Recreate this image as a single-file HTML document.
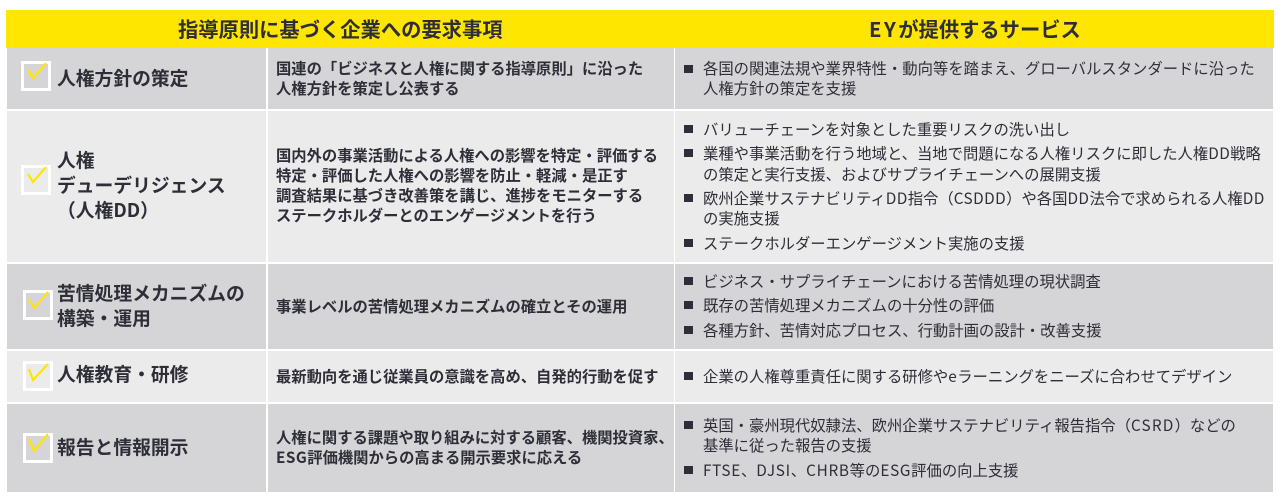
<!DOCTYPE html>
<html lang="ja"><head><meta charset="utf-8">
<style>
html,body{margin:0;padding:0;background:#fff}
body{position:relative;width:1282px;height:503px;overflow:hidden;font-family:"Noto Sans CJK JP",sans-serif;color:#2e2e38}
.r{position:absolute}
.t{position:absolute;white-space:nowrap;line-height:20px}
.h{font-size:20.3px;font-weight:700;line-height:26px}
.a{font-size:18.8px;font-weight:700;line-height:26px}
.b{font-size:15.3px;font-weight:700}
.c{font-size:15.33px;color:#2e2e38}
.s{position:absolute;width:9px;height:8px;background:#2e2e38;left:684px}
i{font-style:normal;letter-spacing:.45px}
svg{position:absolute}
</style></head><body>
<div class="r" style="left:6px;top:10px;width:1268px;height:38px;background:#ffe600"></div>
<div class="t h" style="left:178px;top:15px">指導原則に基づく企業への要求事項</div>
<div class="t h" style="left:869px;top:15px"><i style="letter-spacing:2.5px">EY</i>が提供するサービス</div>

<div class="r" style="left:7px;top:48px;width:259px;height:61px;background:#d5d5d7"></div>
<div class="r" style="left:268px;top:48px;width:406px;height:61px;background:#d5d5d7"></div>
<div class="r" style="left:675px;top:48px;width:598px;height:61px;background:#d5d5d7"></div>
<div class="r" style="left:7px;top:111px;width:259px;height:151px;background:#ebebeb"></div>
<div class="r" style="left:268px;top:111px;width:406px;height:151px;background:#ebebeb"></div>
<div class="r" style="left:675px;top:111px;width:598px;height:151px;background:#ebebeb"></div>
<div class="r" style="left:7px;top:264px;width:259px;height:85px;background:#d5d5d7"></div>
<div class="r" style="left:268px;top:264px;width:406px;height:85px;background:#d5d5d7"></div>
<div class="r" style="left:675px;top:264px;width:598px;height:85px;background:#d5d5d7"></div>
<div class="r" style="left:7px;top:351px;width:259px;height:51px;background:#ebebeb"></div>
<div class="r" style="left:268px;top:351px;width:406px;height:51px;background:#ebebeb"></div>
<div class="r" style="left:675px;top:351px;width:598px;height:51px;background:#ebebeb"></div>
<div class="r" style="left:7px;top:404px;width:259px;height:88px;background:#d5d5d7"></div>
<div class="r" style="left:268px;top:404px;width:406px;height:88px;background:#d5d5d7"></div>
<div class="r" style="left:675px;top:404px;width:598px;height:88px;background:#d5d5d7"></div>

<svg style="left:21px;top:61px" width="30" height="30"><rect x="1.5" y="1.5" width="27" height="27" fill="none" stroke="#fff" stroke-width="3"/><polyline points="7,9 12,17 25,2" fill="none" stroke="#ffe600" stroke-width="2.2"/></svg>
<svg style="left:21px;top:165px" width="30" height="30"><rect x="1.5" y="1.5" width="27" height="27" fill="none" stroke="#fff" stroke-width="3"/><polyline points="7,9 12,17 25,2" fill="none" stroke="#ffe600" stroke-width="2.2"/></svg>
<svg style="left:23px;top:290px" width="30" height="30"><rect x="1.5" y="1.5" width="27" height="27" fill="none" stroke="#fff" stroke-width="3"/><polyline points="6,9 11,18 25,2" fill="none" stroke="#ffe600" stroke-width="2.2"/></svg>
<svg style="left:23px;top:361px" width="30" height="30"><rect x="1.5" y="1.5" width="27" height="27" fill="none" stroke="#fff" stroke-width="3"/><polyline points="6,8 10,19 25,3" fill="none" stroke="#ffe600" stroke-width="2.2"/></svg>
<svg style="left:23px;top:433px" width="30" height="30"><rect x="1.5" y="1.5" width="27" height="27" fill="none" stroke="#fff" stroke-width="3"/><polyline points="6,6 11,18 25,1" fill="none" stroke="#ffe600" stroke-width="2.2"/></svg>

<div class="t a" style="left:57px;top:65px">人権方針の策定</div>
<div class="t a" style="left:57px;top:147px">人権</div>
<div class="t a" style="left:57px;top:172px">デューデリジェンス</div>
<div class="t a" style="left:57px;top:197px">（人権DD）</div>
<div class="t a" style="left:57px;top:280px">苦情処理メカニズムの</div>
<div class="t a" style="left:57px;top:305px">構築・運用</div>
<div class="t a" style="left:57px;top:361px">人権教育・研修</div>
<div class="t a" style="left:57px;top:434px">報告と情報開示</div>

<div class="t b" style="left:276px;top:58px">国連の「ビジネスと人権に関する指導原則」に沿った</div>
<div class="t b" style="left:276px;top:78px">人権方針を策定し公表する</div>
<div class="t b" style="left:276px;top:145px">国内外の事業活動による人権への影響を特定・評価する</div>
<div class="t b" style="left:276px;top:165px">特定・評価した人権への影響を防止・軽減・是正す</div>
<div class="t b" style="left:276px;top:185px">調査結果に基づき改善策を講じ、進捗をモニターする</div>
<div class="t b" style="left:276px;top:205px">ステークホルダーとのエンゲージメントを行う</div>
<div class="t b" style="left:276px;top:296px">事業レベルの苦情処理メカニズムの確立とその運用</div>
<div class="t b" style="left:276px;top:366px">最新動向を通じ従業員の意識を高め、自発的行動を促す</div>
<div class="t b" style="left:276px;top:427px">人権に関する課題や取り組みに対する顧客、機関投資家、</div>
<div class="t b" style="left:276px;top:447px"><i>ESG</i>評価機関からの高まる開示要求に応える</div>

<div class="s" style="top:65px"></div>
<div class="t c" style="left:703px;top:58px">各国の関連法規や業界特性・動向等を踏まえ、グローバルスタンダードに沿った</div>
<div class="t c" style="left:703px;top:78px">人権方針の策定を支援</div>
<div class="s" style="top:125px"></div>
<div class="t c" style="left:703px;top:119px">バリューチェーンを対象とした重要リスクの洗い出し</div>
<div class="s" style="top:149px"></div>
<div class="t c" style="left:703px;top:143px">業種や事業活動を行う地域と、当地で問題になる人権リスクに即した人権<i>DD</i>戦略</div>
<div class="t c" style="left:703px;top:164px">の策定と実行支援、およびサプライチェーンへの展開支援</div>
<div class="s" style="top:194px"></div>
<div class="t c" style="left:703px;top:188px">欧州企業サステナビリティ<i>DD</i>指令（<i>CSDDD</i>）や各国<i>DD</i>法令で求められる人権<i>DD</i></div>
<div class="t c" style="left:703px;top:208px">の実施支援</div>
<div class="s" style="top:239px"></div>
<div class="t c" style="left:703px;top:233px">ステークホルダーエンゲージメント実施の支援</div>
<div class="s" style="top:277px"></div>
<div class="t c" style="left:703px;top:271px">ビジネス・サプライチェーンにおける苦情処理の現状調査</div>
<div class="s" style="top:301px"></div>
<div class="t c" style="left:703px;top:295px">既存の苦情処理メカニズムの十分性の評価</div>
<div class="s" style="top:326px"></div>
<div class="t c" style="left:703px;top:320px">各種方針、苦情対応プロセス、行動計画の設計・改善支援</div>
<div class="s" style="top:372px"></div>
<div class="t c" style="left:703px;top:366px">企業の人権尊重責任に関する研修や<i>e</i>ラーニングをニーズに合わせてデザイン</div>
<div class="s" style="top:421px"></div>
<div class="t c" style="left:703px;top:415px">英国・豪州現代奴隷法、欧州企業サステナビリティ報告指令（<i style="letter-spacing:1.2px">CSRD</i>）などの</div>
<div class="t c" style="left:703px;top:435px">基準に従った報告の支援</div>
<div class="s" style="top:466px"></div>
<div class="t c" style="left:703px;top:460px"><i style="letter-spacing:.7px">FTSE</i>、<i style="letter-spacing:.7px">DJSI</i>、<i style="letter-spacing:.7px">CHRB</i>等の<i style="letter-spacing:.7px">ESG</i>評価の向上支援</div>
</body></html>
